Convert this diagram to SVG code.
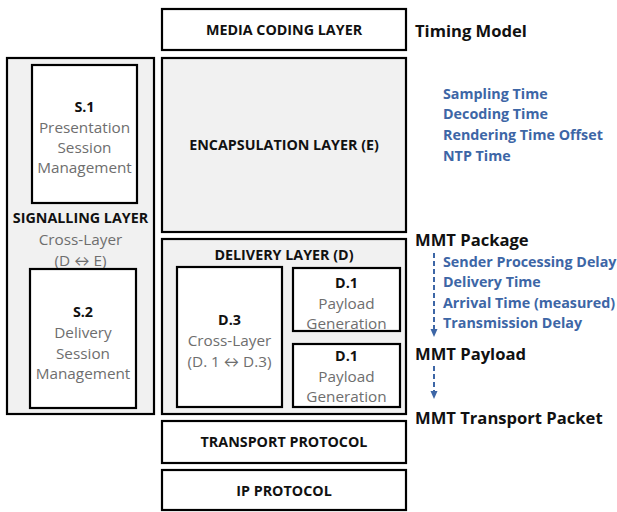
<svg xmlns="http://www.w3.org/2000/svg" width="617" height="512" viewBox="0 0 617 512">
<style>
.box{stroke:#000;stroke-width:2.2;}
.w{fill:#fff;}
.g{fill:#f1f1f1;}
text{font-family:"Open Sans",Lato,"Liberation Sans",sans-serif;}
.t{font-weight:bold;font-size:14.3px;fill:#111;text-anchor:middle;}
.s{font-size:15.3px;fill:#6e6e6e;text-anchor:middle;}
.h{font-weight:bold;font-size:14.3px;fill:#111;text-anchor:middle;}
.r{font-weight:bold;font-size:16.6px;fill:#111;}
.b{font-weight:bold;font-size:14.3px;fill:#3d66a6;}
</style>
<defs>
<marker id="ah" markerWidth="8" markerHeight="8" refX="4" refY="4" orient="auto" markerUnits="userSpaceOnUse">
<path d="M0,0.5 L8,4 L0,7.5 Z" fill="#3d66a6"/>
</marker>
</defs>
<g id="media"><rect class="box w" x="162" y="9" width="244" height="41"/><text class="t" x="284" y="35">MEDIA CODING LAYER</text></g>
<g id="encapsulation"><rect class="box g" x="162" y="58" width="244" height="174"/><text class="t" x="284" y="150">ENCAPSULATION LAYER (E)</text></g>
<g id="delivery"><rect class="box g" x="162" y="239" width="244" height="175"/><text class="t" x="284" y="260">DELIVERY LAYER (D)</text></g>
<g id="d3"><rect class="box w" x="177" y="267" width="105" height="140"/>
<text class="h" x="229.5" y="325">D.3</text><text class="s" x="229.5" y="346">Cross-Layer</text><text class="s" x="229.5" y="367">(D. 1 ↔ D.3)</text></g>
<g id="d1a"><rect class="box w" x="293" y="268" width="107" height="63"/>
<text class="h" x="346.5" y="288">D.1</text><text class="s" x="346.5" y="309">Payload</text><text class="s" x="346.5" y="329">Generation</text></g>
<g id="d1b"><rect class="box w" x="293" y="344" width="107" height="63"/>
<text class="h" x="346.5" y="361">D.1</text><text class="s" x="346.5" y="382">Payload</text><text class="s" x="346.5" y="402">Generation</text></g>
<g id="transport"><rect class="box w" x="162" y="421" width="244" height="42"/><text class="t" x="284" y="447">TRANSPORT PROTOCOL</text></g>
<g id="ip"><rect class="box w" x="162" y="470" width="244" height="40"/><text class="t" x="284" y="496">IP PROTOCOL</text></g>
<g id="signalling"><rect class="box g" x="7" y="58" width="147" height="356"/>
<text class="h" x="80.5" y="223">SIGNALLING LAYER</text><text class="s" x="80.5" y="245">Cross-Layer</text><text class="s" x="80.5" y="266">(D ↔ E)</text></g>
<g id="s1"><rect class="box w" x="32" y="65" width="105" height="138"/>
<text class="h" x="84.5" y="112">S.1</text><text class="s" x="84.5" y="133">Presentation</text><text class="s" x="84.5" y="153">Session</text><text class="s" x="84.5" y="173">Management</text></g>
<g id="s2"><rect class="box w" x="30" y="269" width="106" height="139"/>
<text class="h" x="83" y="317">S.2</text><text class="s" x="83" y="338">Delivery</text><text class="s" x="83" y="359">Session</text><text class="s" x="83" y="379">Management</text></g>
<g id="labels">
<text class="r" x="415" y="37">Timing Model</text>
<text class="b" x="443" y="99">Sampling Time</text>
<text class="b" x="443" y="119">Decoding Time</text>
<text class="b" x="443" y="140">Rendering Time Offset</text>
<text class="b" x="443" y="161">NTP Time</text>
<text class="r" x="415" y="246">MMT Package</text>
<text class="b" x="443" y="267">Sender Processing Delay</text>
<text class="b" x="443" y="287">Delivery Time</text>
<text class="b" x="443" y="308">Arrival Time (measured)</text>
<text class="b" x="443" y="328">Transmission Delay</text>
<text class="r" x="415" y="360">MMT Payload</text>
<text class="r" x="415" y="424">MMT Transport Packet</text>
</g>
<g id="connectors" stroke="#3d66a6" stroke-width="2" stroke-dasharray="5,3" fill="none">
<line x1="434" y1="253" x2="434" y2="333" marker-end="url(#ah)"/>
<line x1="434" y1="366" x2="434" y2="395" marker-end="url(#ah)"/>
</g>
</svg>
